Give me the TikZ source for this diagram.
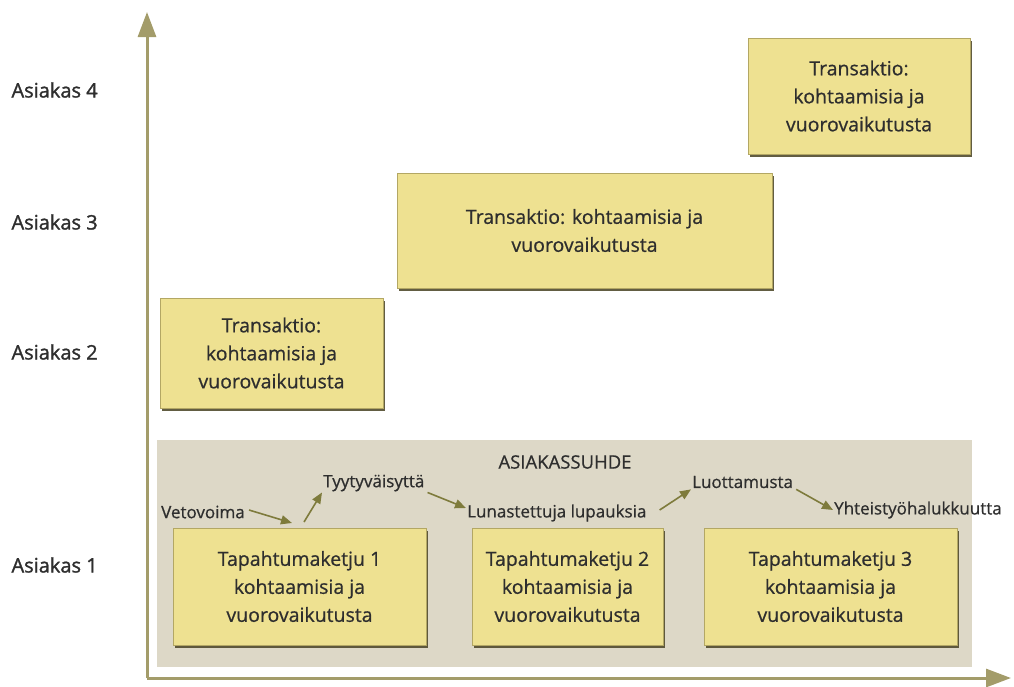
\documentclass[tikz,border=0pt]{standalone}
\usepackage{fontspec}
\setmainfont{Open Sans}[FakeBold=0.6]
\newfontfamily\medium{Open Sans}[AutoFakeBold=0.7]
\newfontfamily\semibold{Open Sans}[AutoFakeBold=1.4]
\usetikzlibrary{arrows.meta,shadows,calc}
\definecolor{axiscol}{HTML}{A39C6A}
\definecolor{arrcol}{HTML}{7E7B3C}
\definecolor{boxfill}{HTML}{EEE191}
\definecolor{boxedge}{HTML}{B3A764}
\definecolor{bandfill}{HTML}{DDD8C7}
\definecolor{txt}{HTML}{2E2E2E}
\tikzset{
  axis/.style={draw=axiscol, line width=3pt, -{Triangle[length=25pt,width=18pt]}},
  card/.style={draw=boxedge, line width=0.8pt, fill=boxfill, text=txt, align=center,
    inner sep=0pt, font=\medium\bfseries\fontsize{19.5}{28}\selectfont,
    drop shadow={shadow xshift=2pt, shadow yshift=-2.5pt, fill=black!55!boxedge, opacity=0.9}},
  rowlabel/.style={anchor=west, text=txt, font=\semibold\bfseries\fontsize{20}{22}\selectfont},
  stage/.style={text=txt, inner sep=1pt, font=\medium\bfseries\fontsize{17}{20}\selectfont},
  flow/.style={draw=arrcol, line width=1.6pt, -{Triangle[length=11pt,width=9pt]}},
}
\begin{document}
\begin{tikzpicture}[x=1pt,y=-1pt]
\useasboundingbox (0,0) rectangle (1014,686);

% relationship band
\node[fill=bandfill, minimum width=815pt, minimum height=227pt, inner sep=0pt, anchor=north west] (band) at (157,440) {};
\node[text=txt, font=\medium\bfseries\fontsize{18.5}{20}\selectfont] (bandtitle) at (565,462) {ASIAKASSUHDE};

% axes
\coordinate (origin) at (147,678);
\coordinate (ytip) at (147,12);
\coordinate (xtip) at (1011,678);
\draw[axis] (origin) -- (ytip);
\draw[axis] (origin) -- (xtip);

% customer levels
\node[rowlabel] (a4) at (8,90) {Asiakas 4};
\node[rowlabel] (a3) at (8,222) {Asiakas 3};
\node[rowlabel] (a2) at (8,352) {Asiakas 2};
\node[rowlabel] (a1) at (8,565) {Asiakas 1};

% single transactions
\node[card, minimum width=222pt, minimum height=116pt] (t4) at (859,96)
  {Transaktio:\\kohtaamisia ja\\vuorovaikutusta};
\node[card, minimum width=375pt, minimum height=115pt] (t3) at (584.5,230.5)
  {Transaktio: kohtaamisia ja\\vuorovaikutusta};
\node[card, minimum width=223pt, minimum height=110pt] (t2) at (271.5,353)
  {Transaktio:\\kohtaamisia ja\\vuorovaikutusta};

% event chains within the relationship
\node[card, minimum width=253pt, minimum height=117pt] (e1) at (299.5,586.5)
  {Tapahtumaketju 1\\kohtaamisia ja\\vuorovaikutusta};
\node[card, minimum width=191pt, minimum height=117pt] (e2) at (567.5,586.5)
  {Tapahtumaketju 2\\kohtaamisia ja\\vuorovaikutusta};
\node[card, minimum width=253pt, minimum height=117pt] (e3) at (830.5,586.5)
  {Tapahtumaketju 3\\kohtaamisia ja\\vuorovaikutusta};

% stages of the relationship
\node[stage, anchor=west] (veto) at (160,512) {Vetovoima};
\node[stage, anchor=west] (tyyt) at (322,483) {Tyytyväisyttä};
\node[stage, anchor=west] (luna) at (466,513) {Lunastettuja lupauksia};
\node[stage, anchor=west] (luot) at (691,482) {Luottamusta};
\node[stage, anchor=west] (yht) at (833,510) {Yhteistyöhalukkuutta};

\coordinate (dip) at (292,523);
\coordinate (rise) at (304,522);
\draw[flow] (veto.east) ++(3,-2) -- (dip);
\draw[flow] (rise) -- (tyyt.south west);
\draw[flow] (tyyt.south east) ++(2,0) -- ($(luna.west)+(0,-5)$);
\draw[flow] (luna.east) ++(12,-3) -- (luot.south west);
\draw[flow] (luot.south east) ++(2,0) -- (yht.west);
\end{tikzpicture}
\end{document}
